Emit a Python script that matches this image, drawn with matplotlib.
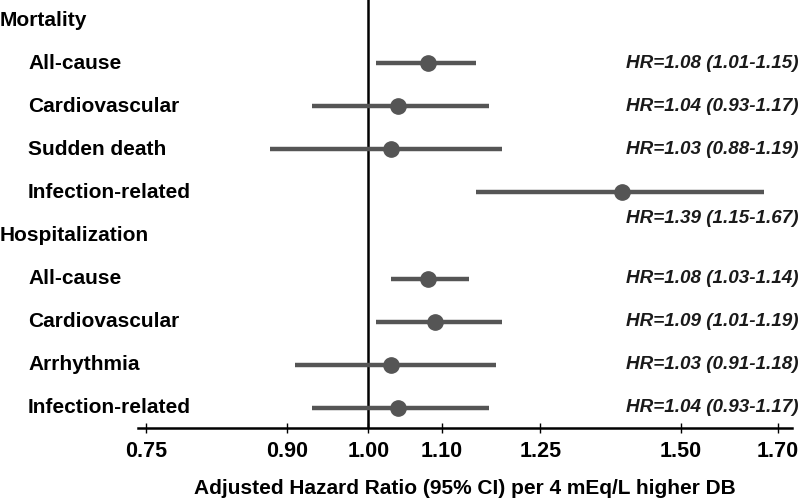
import matplotlib
matplotlib.use("Agg")
import matplotlib.pyplot as plt
import matplotlib.transforms as mtransforms

plt.rcParams["font.family"] = ["Liberation Sans", "DejaVu Sans"]

# rows, top to bottom
labels = ["Mortality", "All-cause", "Cardiovascular", "Sudden death", "Infection-related",
          "Hospitalization", "All-cause", "Cardiovascular", "Arrhythmia", "Infection-related"]
is_header = [True, False, False, False, False, True, False, False, False, False]

# estimates (None for header rows)
hr = [None, 1.08, 1.04, 1.03, 1.39, None, 1.08, 1.09, 1.03, 1.04]
lo = [None, 1.01, 0.93, 0.88, 1.15, None, 1.03, 1.01, 0.91, 0.93]
hi = [None, 1.15, 1.17, 1.19, 1.67, None, 1.14, 1.19, 1.18, 1.17]

xticks = [0.75, 0.90, 1.00, 1.10, 1.25, 1.50, 1.70]
xlabel = "Adjusted Hazard Ratio (95% CI) per 4 mEq/L higher DB"

fig = plt.figure(figsize=(8, 5.01), dpi=100)
ax = fig.add_axes([138 / 800, 73 / 501, 654 / 800, 428 / 501])

gray = "#555555"
for i in range(len(labels)):
    if hr[i] is None:
        continue
    ax.plot([lo[i], hi[i]], [i, i], color=gray, lw=3.2, solid_capstyle="butt", zorder=3)
    ax.plot(hr[i], i, "o", color=gray, markersize=11, zorder=4)

ax.axvline(1.0, color="black", lw=1.8, zorder=2)

ax.set_xscale("log")
ax.set_xlim(0.742, 1.732)
ax.set_ylim(9.465, -0.465)
ax.set_xticks(xticks)
ax.set_xticklabels([f"{t:.2f}" for t in xticks], fontsize=15.5, fontweight="bold")
ax.minorticks_off()
ax.set_yticks([])
for s in ["left", "right", "top"]:
    ax.spines[s].set_visible(False)
ax.spines["bottom"].set_linewidth(1.8)
ax.tick_params(axis="x", direction="inout", length=7, width=1, pad=6)
ax.set_xlabel(xlabel, fontsize=15, fontweight="bold", labelpad=12)

trans = mtransforms.blended_transform_factory(fig.transFigure, ax.transData)
for i, lab in enumerate(labels):
    x = 0.0 if is_header[i] else 28 / 800
    ax.text(x, i, lab, transform=trans, fontsize=15, fontweight="bold",
            ha="left", va="center", clip_on=False)
    if hr[i] is not None:
        y = i + 0.6 if hr[i] > 1.3 else i
        ax.text(798 / 800, y, f"HR={hr[i]:.2f} ({lo[i]:.2f}-{hi[i]:.2f})", transform=trans,
                fontsize=13.6, fontweight="bold", fontstyle="italic", color="#1a1a1a",
                ha="right", va="center", clip_on=False)

fig.savefig("out.png", dpi=100)
